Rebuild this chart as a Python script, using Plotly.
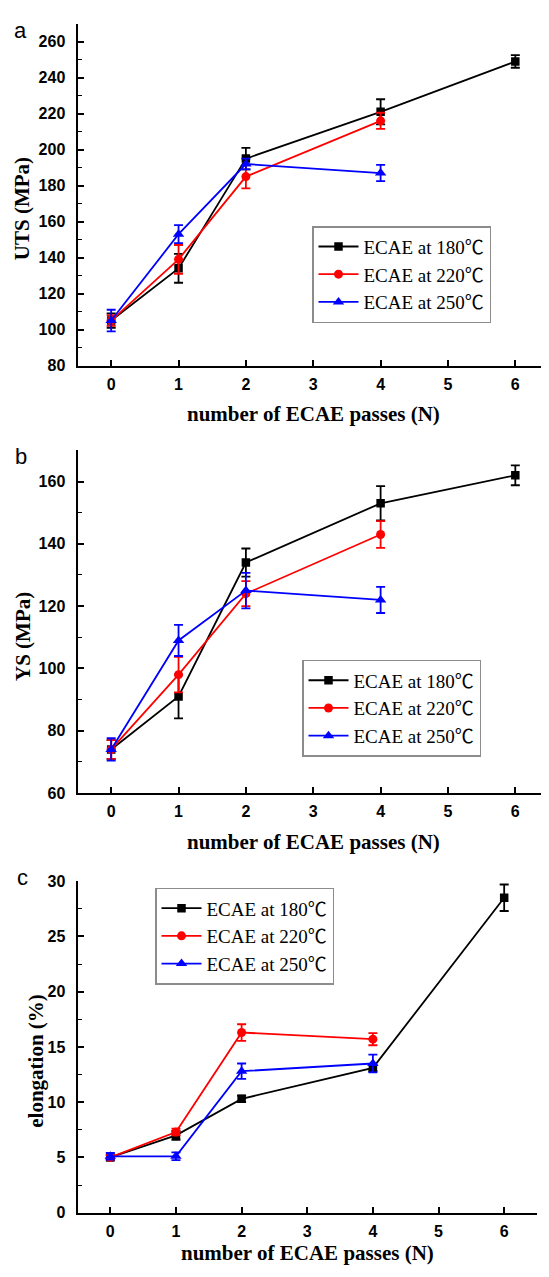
import plotly.graph_objects as go

# page body has an 8px margin: figure is placed at (8, 8) in the window,
# sized so that the page fits the window exactly
OFF = 8
W, H = 549 - OFF, 1277 - 2 * OFF

# ---------------- data ----------------
passes_180 = [0, 1, 2, 4, 6]
passes_220 = [0, 1, 2, 4]
passes_250 = [0, 1, 2, 4]

uts_180 = [105, 134, 195, 221, 249]
uts_180_err = [4, 8, 6, 7, 3.5]
uts_220 = [105, 139, 185, 216]
uts_220_err = [3, 8, 6.5, 4.5]
uts_250 = [105, 153, 192, 187]
uts_250_err = [6, 5, 3, 4.5]

ys_180 = [74, 91, 134, 153, 162]
ys_180_err = [3, 7, 4.5, 5.5, 3.2]
ys_220 = [74, 98, 124, 143]
ys_220_err = [3, 5.7, 4, 4.3]
ys_250 = [74, 109, 125, 122]
ys_250_err = [3.6, 5, 5.7, 4.2]

el_180 = [5.0, 7.0, 10.3, 13.1, 28.5]
el_180_err = [0.2, 0.4, 0.3, 0.3, 1.2]
el_220 = [5.0, 7.3, 16.3, 15.7]
el_220_err = [0.2, 0.3, 0.75, 0.55]
el_250 = [5.1, 5.1, 12.8, 13.5]
el_250_err = [0.3, 0.35, 0.7, 0.8]

series_names = ["ECAE at 180\u2103", "ECAE at 220\u2103", "ECAE at 250\u2103"]
x_ticks = [0, 1, 2, 3, 4, 5, 6]
x_title = "number of ECAE passes (N)"
y_titles = ["UTS (MPa)", "YS (MPa)", "elongation (%)"]
panel_letters = ["a", "b", "c"]

# ---------------- styling ----------------
colors = ["#000000", "#ff0000", "#0000ff"]
symbols = ["square", "circle", "triangle-up"]
msizes = [8.5, 9, 10]
SERIF = "Liberation Serif, Times New Roman, Noto Sans CJK SC, serif"
SANS = "Liberation Sans, Arial, sans-serif"


def px(x):
    return (x - OFF) / W


def py(y):
    return 1 - (y - OFF) / H


fig = go.Figure()

panels = [
    ([uts_180, uts_220, uts_250], [uts_180_err, uts_220_err, uts_250_err]),
    ([ys_180, ys_220, ys_250], [ys_180_err, ys_220_err, ys_250_err]),
    ([el_180, el_220, el_250], [el_180_err, el_220_err, el_250_err]),
]
xs = [passes_180, passes_220, passes_250]
legend_ids = ["legend", "legend2", "legend3"]
axis_ids = [("x", "y"), ("x2", "y2"), ("x3", "y3")]

for p, (vals, errs) in enumerate(panels):
    for s in range(3):
        fig.add_trace(go.Scatter(
            x=xs[s], y=vals[s],
            error_y=dict(type="data", array=errs[s], visible=True,
                         color=colors[s], thickness=1.8, width=4.5),
            mode="lines+markers",
            name=series_names[s],
            line=dict(color=colors[s], width=1.8),
            marker=dict(symbol=symbols[s], size=msizes[s], color=colors[s]),
            xaxis=axis_ids[p][0], yaxis=axis_ids[p][1],
            legend=legend_ids[p],
        ))

# plot-area boxes in window pixels: (left, right, top, bottom)
boxes = [(77.5, 549, 15.8, 362.3), (77.5, 549, 448.3, 795.7), (77.5, 537, 885, 1221)]
yranges = [[80, 270], [60, 170], [0, 30]]
ydticks = [20, 20, 5]

layout = dict(
    width=W, height=H,
    margin=dict(l=0, r=0, t=0, b=0),
    paper_bgcolor="white", plot_bgcolor="white",
    showlegend=True,
)

for i, (l, r, t, b) in enumerate(boxes):
    sfx = "" if i == 0 else str(i + 1)
    layout["xaxis" + sfx] = dict(
        domain=[px(l), min(px(r), 1.0)], range=[-0.5, 6.5],
        anchor="y" + sfx,
        tickmode="array", tickvals=x_ticks,
        ticks="inside", ticklen=6, tickwidth=1.6, tickcolor="black",
        showline=True, linecolor="black", linewidth=2,
        showgrid=False, zeroline=False,
        tickfont=dict(family=SANS, size=16, color="black", weight="bold"),
        ticklabelstandoff=3,
    )
    layout["yaxis" + sfx] = dict(
        domain=[py(b), py(t)], range=yranges[i],
        anchor="x" + sfx,
        dtick=ydticks[i], tick0=0,
        ticks="inside", ticklen=6, tickwidth=1.6, tickcolor="black",
        minor=dict(ticks="inside", ticklen=4, tickwidth=1.4, tickcolor="black",
                   dtick=ydticks[i] / 2, showgrid=False),
        showline=True, linecolor="black", linewidth=2,
        showgrid=False, zeroline=False,
        tickfont=dict(family=SANS, size=16, color="black", weight="bold"),
        ticklabelstandoff=7,
    )

legend_pos = [(312, 221), (302, 660.7), (155, 891.7)]
for i, (lx, ly) in enumerate(legend_pos):
    layout[legend_ids[i]] = dict(
        x=px(lx), y=py(ly), xanchor="left", yanchor="top",
        xref="paper", yref="paper",
        bgcolor="white", bordercolor="#8c8c8c", borderwidth=1.5,
        font=dict(family=SERIF, size=19, color="black"),
        itemwidth=40, tracegroupgap=0,
    )

annotations = []
ytitle_pos = [(22.8, 203), (22.8, 636.7), (36, 1067)]
xtitle_pos = [(313, 411.7), (313, 845), (307, 1262)]
letter_pos = [(20, 23), (21, 455), (22.8, 881.7)]
for i in range(3):
    annotations.append(dict(
        text=y_titles[i], x=px(ytitle_pos[i][0]), y=py(ytitle_pos[i][1]),
        xref="paper", yref="paper", showarrow=False, textangle=-90,
        xanchor="center", yanchor="middle",
        font=dict(family=SERIF, size=21, color="black", weight="bold"),
    ))
    annotations.append(dict(
        text=x_title, x=px(xtitle_pos[i][0]), y=py(xtitle_pos[i][1]),
        xref="paper", yref="paper", showarrow=False,
        xanchor="center", yanchor="middle",
        font=dict(family=SERIF, size=21, color="black", weight="bold"),
    ))
    annotations.append(dict(
        text=panel_letters[i], x=px(letter_pos[i][0]), y=py(letter_pos[i][1]),
        xref="paper", yref="paper", showarrow=False,
        xanchor="center", yanchor="middle",
        font=dict(family=SANS, size=22, color="black"),
    ))
layout["annotations"] = annotations

fig.update_layout(**layout)
fig.write_html("out.html")
